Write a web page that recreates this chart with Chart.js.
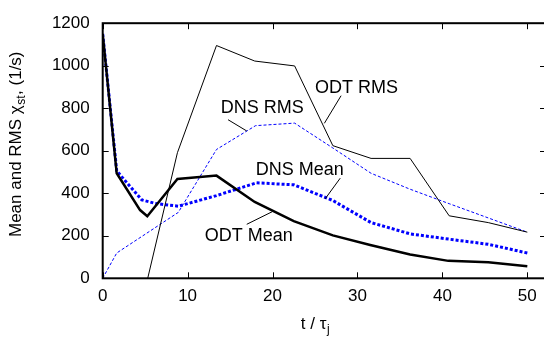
<!DOCTYPE html>
<html>
<head>
<meta charset="utf-8">
<script src="https://cdn.jsdelivr.net/npm/chart.js@4/dist/chart.umd.min.js"></script>
<style>
html,body{margin:0;padding:0;overflow:hidden;background:#fff;width:544px;height:342px;}
canvas{display:block;}
</style>
</head>
<body>
<canvas id="c" width="560" height="342"></canvas>
<script>
// ---- data ----
const odtMeanX = [0, 1.65, 4.4, 5.25, 8.8, 13.4, 17.9, 22.5, 27.1, 31.5, 36.2, 40.7, 45.4, 50];
const odtMeanY = [1150, 494, 321, 292, 467, 483, 359, 269, 202, 157, 112, 82, 75, 57];

const odtRmsX = [5.3, 8.8, 13.4, 17.9, 22.6, 27.1, 31.6, 36.2, 40.8, 45.4, 50];
const odtRmsY = [0, 591, 1095, 1022, 999, 624, 564, 564, 294, 262, 217];

const dnsMeanX = [0, 1.65, 4.6, 6.2, 8.9, 13.4, 18.1, 22.5, 27.1, 31.6, 36.2, 40.8, 45.4, 50];
const dnsMeanY = [1150, 505, 369, 352, 339, 389, 449, 440, 366, 262, 209, 184, 160, 119];

const dnsRmsX = [0, 1.65, 8.9, 13.4, 18, 22.6, 27.1, 31.6, 36.2, 40.8, 45.4, 50];
const dnsRmsY = [0, 119, 310, 606, 718, 730, 613, 494, 419, 351, 284, 217];

const xTickValues = [0, 10, 20, 30, 40, 50];
const yTickValues = [0, 200, 400, 600, 800, 1000, 1200];

const seriesNames = ['ODT Mean', 'ODT RMS', 'DNS Mean', 'DNS RMS'];

// labels with leader lines, in data units
const labelText = ['ODT RMS', 'DNS RMS', 'DNS Mean', 'ODT Mean'];
const labelAt = [[29.9, 897], [18.8, 803], [23.2, 511], [17.2, 199]];
const leaderFrom = [[28.07, 859], [14.76, 746], [27.97, 471], [16.96, 254]];
const leaderTo = [[26.1, 729], [16.96, 693], [26.2, 374], [20.0, 314]];

const FONT = "'Liberation Sans', Arial, Helvetica, sans-serif";

function pts(xs, ys) { return xs.map((x, i) => ({x: x, y: ys[i]})); }

const frame = {
  id: 'frame',
  afterDraw(chart) {
    const ctx = chart.ctx, a = chart.chartArea;
    const xs = chart.scales.x, ys = chart.scales.y;
    ctx.save();
    // inward ticks
    ctx.strokeStyle = '#000';
    ctx.lineWidth = 1;
    const L = 6;
    ctx.beginPath();
    xTickValues.forEach(v => {
      const p = Math.round(xs.getPixelForValue(v)) + 0.5;
      ctx.moveTo(p, a.bottom); ctx.lineTo(p, a.bottom - L);
      ctx.moveTo(p, a.top); ctx.lineTo(p, a.top + L);
    });
    yTickValues.forEach(v => {
      const p = Math.round(ys.getPixelForValue(v)) + 0.5;
      ctx.moveTo(a.left, p); ctx.lineTo(a.left + L, p);
      ctx.moveTo(a.right, p); ctx.lineTo(a.right - L, p);
    });
    ctx.stroke();
    // border
    ctx.lineWidth = 2;
    ctx.strokeRect(a.left, a.top, a.right - a.left, a.bottom - a.top);

    // labels and leader lines
    ctx.lineWidth = 1;
    ctx.fillStyle = '#000';
    ctx.font = '18px ' + FONT;
    ctx.textAlign = 'center';
    ctx.textBaseline = 'middle';
    labelText.forEach((t, i) => {
      ctx.fillText(t, xs.getPixelForValue(labelAt[i][0]), ys.getPixelForValue(labelAt[i][1]));
      ctx.beginPath();
      ctx.moveTo(xs.getPixelForValue(leaderFrom[i][0]), ys.getPixelForValue(leaderFrom[i][1]));
      ctx.lineTo(xs.getPixelForValue(leaderTo[i][0]), ys.getPixelForValue(leaderTo[i][1]));
      ctx.stroke();
    });

    // x axis title: t / τ_j
    ctx.textAlign = 'left';
    ctx.textBaseline = 'alphabetic';
    ctx.font = '17px ' + FONT;
    const main = 't / \u03C4';
    const wMain = ctx.measureText(main).width;
    ctx.font = '12px ' + FONT;
    const wSub = ctx.measureText('j').width;
    const cx = (a.left + xs.getPixelForValue(50)) / 2 + 0;
    let x0 = cx - (wMain + wSub) / 2;
    const by = 329;
    ctx.font = '17px ' + FONT;
    ctx.fillText(main, x0, by);
    ctx.font = '12px ' + FONT;
    ctx.fillText('j', x0 + wMain + 0.5, by + 4);

    // y axis title: Mean and RMS χ_st, (1/s)
    ctx.translate(21, (a.top + a.bottom) / 2 - 6);
    ctx.rotate(-Math.PI / 2);
    const p1 = 'Mean and RMS \u03C7', p2 = 'st', p3 = ', (1/s)';
    ctx.font = '17px ' + FONT;
    const w1 = ctx.measureText(p1).width, w3 = ctx.measureText(p3).width;
    ctx.font = '12px ' + FONT;
    const w2 = ctx.measureText(p2).width;
    let sx = -(w1 + w2 + w3) / 2;
    ctx.font = '17px ' + FONT;
    ctx.fillText(p1, sx, 0);
    ctx.font = '12px ' + FONT;
    ctx.fillText(p2, sx + w1 + 0.5, 4);
    ctx.font = '17px ' + FONT;
    ctx.fillText(p3, sx + w1 + w2 + 1, 0);
    ctx.restore();
  }
};

new Chart(document.getElementById('c'), {
  type: 'line',
  data: {
    datasets: [
      { label: seriesNames[0], data: pts(odtMeanX, odtMeanY), borderColor: '#000', borderWidth: 2.5, pointRadius: 0, tension: 0, fill: false },
      { label: seriesNames[1], data: pts(odtRmsX, odtRmsY), borderColor: '#000', borderWidth: 1, pointRadius: 0, tension: 0, fill: false },
      { label: seriesNames[2], data: pts(dnsMeanX, dnsMeanY), borderColor: '#0000ff', borderWidth: 3, borderDash: [3, 2], pointRadius: 0, tension: 0, fill: false },
      { label: seriesNames[3], data: pts(dnsRmsX, dnsRmsY), borderColor: '#0000ff', borderWidth: 1, borderDash: [3, 2], pointRadius: 0, tension: 0, fill: false }
    ]
  },
  options: {
    responsive: false,
    animation: false,
    devicePixelRatio: 1,
    layout: { padding: { left: 0, top: 11, right: 14, bottom: 0 } },
    plugins: { legend: { display: false }, tooltip: { enabled: false }, title: { display: false } },
    scales: {
      x: {
        type: 'linear', min: 0, max: 52.2,
        grid: { display: false, drawTicks: false },
        border: { display: false },
        ticks: { stepSize: 10, color: '#000', padding: 8, font: { family: FONT, size: 17 }, maxRotation: 0,
                 callback: v => String(v) },
        afterBuildTicks(s) { s.ticks = xTickValues.map(v => ({ value: v })); },
        afterFit(s) { s.height = 63.7; }
      },
      y: {
        type: 'linear', min: 0, max: 1200,
        grid: { display: false, drawTicks: false },
        border: { display: false },
        ticks: { stepSize: 200, color: '#000', padding: 13, font: { family: FONT, size: 17 },
                 callback: v => String(v) },
        afterBuildTicks(s) { s.ticks = yTickValues.map(v => ({ value: v })); },
        afterFit(s) { s.width = 102.7; }
      }
    }
  },
  plugins: [frame]
});
</script>
</body>
</html>
